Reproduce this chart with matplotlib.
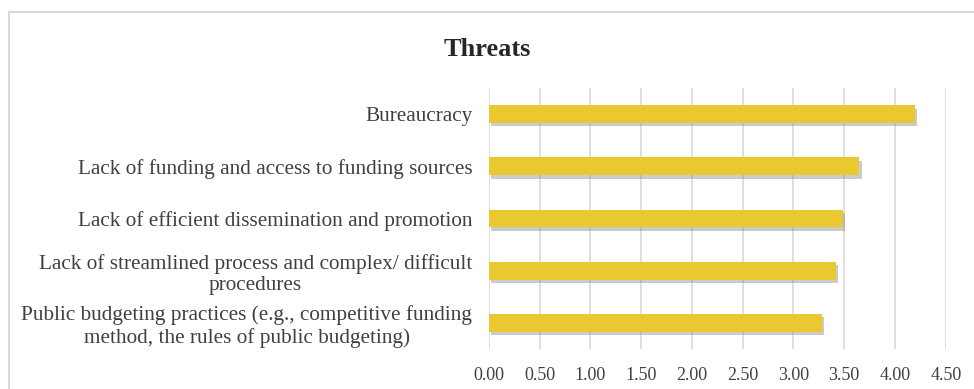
import matplotlib.pyplot as plt
import matplotlib.patheffects as pe
from matplotlib.patches import Rectangle

# Categories, listed from bottom to top
threats = [
    "Public budgeting practices (e.g., competitive funding\nmethod, the rules of public budgeting)",
    "Lack of streamlined process and complex/ difficult\nprocedures",
    "Lack of efficient dissemination and promotion",
    "Lack of funding and access to funding sources",
    "Bureaucracy",
]
scores = [3.28, 3.42, 3.49, 3.65, 4.20]
xticks = [0.0, 0.5, 1.0, 1.5, 2.0, 2.5, 3.0, 3.5, 4.0, 4.5]

plt.rcParams['font.family'] = ['Liberation Serif', 'DejaVu Serif']

fig = plt.figure(figsize=(9.74, 3.89), dpi=100)
ax = fig.add_axes([0.502, 0.103, 0.469, 0.671])

# light frame around the whole chart
fig.patches.append(Rectangle((0.009, -0.01), 1.2, 0.98, transform=fig.transFigure,
                             fill=False, edgecolor='#d9d9d9', linewidth=1.5))

ypos = list(range(len(threats)))
bars = ax.barh(ypos, scores, height=0.34, color='#E9C830', zorder=3)
for b in bars:
    b.set_path_effects([pe.SimplePatchShadow(offset=(1.5, -2.5), shadow_rgbFace='#7f7f7f', alpha=0.4),
                        pe.Normal()])

ax.set_xlim(0, 4.5)
ax.set_ylim(-0.5, len(threats) - 0.5)
ax.set_xticks(xticks)
ax.set_xticklabels([f"{v:.2f}" for v in xticks])
ax.set_yticks(ypos)
ax.set_yticklabels(threats, multialignment='center')

ax.xaxis.grid(True, color='#d9d9d9', linewidth=1.2, zorder=0)
ax.set_axisbelow(True)
for s in ax.spines.values():
    s.set_visible(False)
ax.tick_params(axis='x', length=0, pad=13, labelsize=13, labelcolor='#404040')
ax.tick_params(axis='y', length=0, pad=12, labelsize=15.3, labelcolor='#404040')

fig.text(0.5, 0.872, "Threats", ha='center', va='center', fontsize=19,
         fontweight='bold', color='#262626')

fig.savefig('out.png', dpi=100)
